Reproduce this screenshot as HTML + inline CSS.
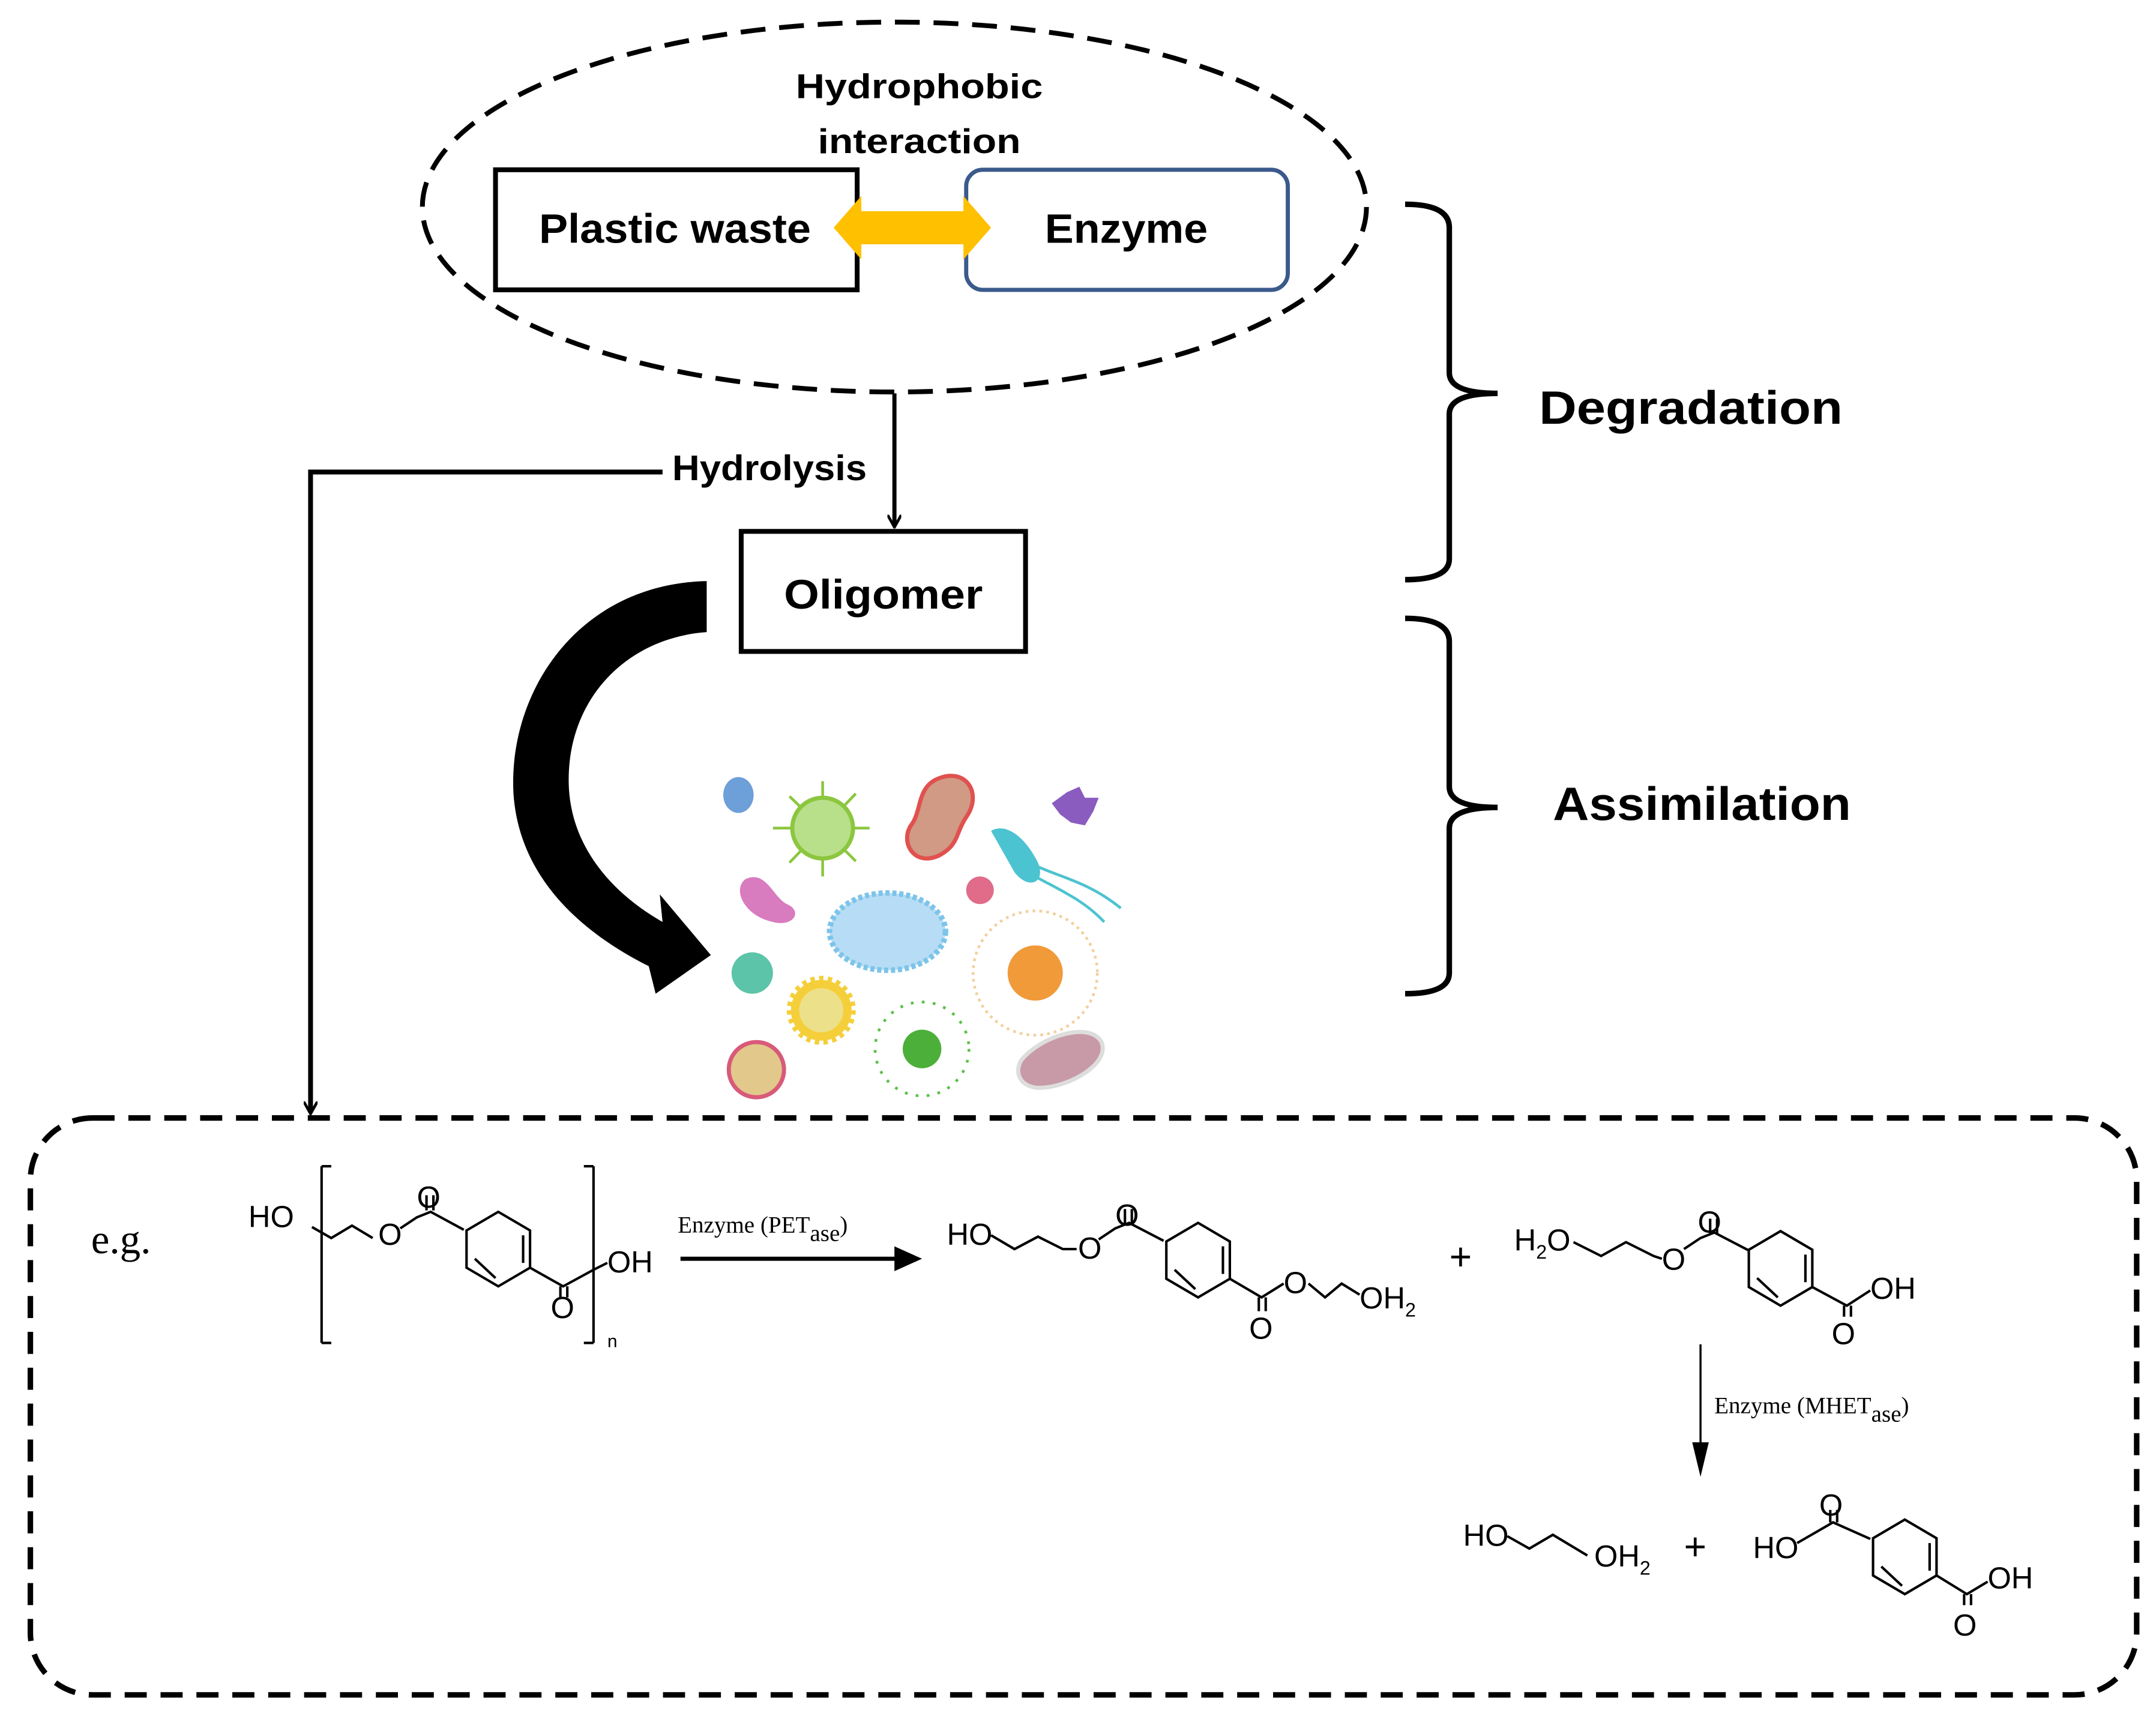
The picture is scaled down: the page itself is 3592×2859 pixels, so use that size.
<!DOCTYPE html>
<html><head><meta charset="utf-8"><style>
html,body{margin:0;padding:0;background:#fff;}
svg{display:block;}
</style></head><body>
<svg width="3592" height="2859" viewBox="0 0 1562 1243.3" preserveAspectRatio="none" xmlns="http://www.w3.org/2000/svg">
<defs>
<marker id="ah" markerWidth="10" markerHeight="10" refX="8" refY="5" orient="auto" markerUnits="userSpaceOnUse"><path d="M0,0 L9,5 L0,10" fill="none" stroke="#000" stroke-width="2"/></marker>
</defs>
<rect width="1562" height="1243.3" fill="#fff"/>
<!-- ellipse -->
<ellipse cx="648" cy="150" rx="342" ry="134" fill="none" stroke="#000" stroke-width="3.5" stroke-dasharray="18,10"/>
<g font-family="Liberation Sans, sans-serif" font-weight="bold" fill="#000">
<text x="666" y="71" font-size="25" text-anchor="middle" textLength="179" lengthAdjust="spacingAndGlyphs">Hydrophobic</text>
<text x="666" y="111" font-size="25" text-anchor="middle" textLength="147" lengthAdjust="spacingAndGlyphs">interaction</text>
</g>
<rect x="359" y="123" width="262" height="87" fill="#fff" stroke="#000" stroke-width="3.5"/>
<rect x="700" y="123" width="233" height="87" rx="12" fill="#fff" stroke="#3b5a8c" stroke-width="3"/>
<path d="M604,165 L624,142 L624,153 L698,153 L698,142 L718,165 L698,188 L698,177 L624,177 L624,188 Z" fill="#ffc000"/>
<g font-family="Liberation Sans, sans-serif" font-weight="bold" fill="#000">
<text x="489" y="176" font-size="30" text-anchor="middle" textLength="197" lengthAdjust="spacingAndGlyphs">Plastic waste</text>
<text x="816" y="176" font-size="30" text-anchor="middle" textLength="118" lengthAdjust="spacingAndGlyphs">Enzyme</text>
<text x="640" y="441" font-size="30" text-anchor="middle" textLength="144" lengthAdjust="spacingAndGlyphs">Oligomer</text>
<text x="487" y="348" font-size="26" textLength="141" lengthAdjust="spacingAndGlyphs">Hydrolysis</text>
<text x="1115" y="307" font-size="34" textLength="220" lengthAdjust="spacingAndGlyphs">Degradation</text>
<text x="1125" y="594" font-size="34" textLength="216" lengthAdjust="spacingAndGlyphs">Assimilation</text>
</g>
<!-- connectors -->
<line x1="648" y1="285" x2="648" y2="381" stroke="#000" stroke-width="3" marker-end="url(#ah)"/>
<polyline points="480,342 225,342 225,806" fill="none" stroke="#000" stroke-width="3.5" marker-end="url(#ah)"/>
<rect x="537" y="385" width="206" height="87" fill="none" stroke="#000" stroke-width="3.5"/>
<!-- big curved arrow -->
<path d="M512,421 C420,423 368,500 372,575 C376,635 420,675 470,700 L475,720 L515,692 L478,648 L480,668 C440,645 412,610 412,565 C412,505 455,462 512,458 Z" fill="#000"/>
<!-- braces -->
<path d="M1018,148 Q1050,148 1050,165 L1050,270 Q1050,285 1085,285 Q1050,285 1050,300 L1050,405 Q1050,420 1018,420" fill="none" stroke="#000" stroke-width="4"/>
<path d="M1018,448 Q1050,448 1050,465 L1050,570 Q1050,585 1085,585 Q1050,585 1050,600 L1050,705 Q1050,720 1018,720" fill="none" stroke="#000" stroke-width="4"/>
<!-- bacteria -->
<g>
<ellipse cx="535" cy="576" rx="11" ry="13" fill="#6d9fd8"/>
<g stroke="#8cc63f" stroke-width="2"><line x1="596" y1="600" x2="596" y2="566"/><line x1="596" y1="600" x2="630" y2="600"/><line x1="596" y1="600" x2="560" y2="600"/><line x1="596" y1="600" x2="596" y2="635"/><line x1="596" y1="600" x2="620" y2="575"/><line x1="596" y1="600" x2="572" y2="625"/><line x1="596" y1="600" x2="572" y2="577"/><line x1="596" y1="600" x2="620" y2="624"/></g>
<circle cx="596" cy="600" r="22" fill="#b8e08a" stroke="#8cc63f" stroke-width="3"/>
<path d="M680,564 C700,556 712,575 700,592 C692,604 695,612 680,620 C662,628 652,610 660,598 C668,588 664,570 680,564Z" fill="#d09a85" stroke="#e0514f" stroke-width="3"/>
<path d="M773,574 L782,570 L786,578 L796,578 L792,588 L786,598 L776,596 L768,590 L762,582Z" fill="#8a5cc0"/>
<path d="M718,602 C728,596 742,605 752,625 C758,640 745,645 735,632 Z" fill="#4cc3d0"/>
<path d="M752,628 C770,636 790,640 812,658 M750,635 C768,645 785,652 800,668" stroke="#4cc3d0" stroke-width="2" fill="none"/>
<circle cx="710" cy="645" r="10" fill="#e06c8a"/>
<path d="M540,637 C555,630 560,650 570,655 C582,660 575,672 560,668 C540,664 530,645 540,637Z" fill="#d87bbf"/>
<ellipse cx="643" cy="675" rx="42" ry="28" fill="#b7dcf5" stroke="#7cc4e8" stroke-width="4" stroke-dasharray="3,2"/>
<circle cx="750" cy="705" r="45" fill="none" stroke="#f2d0a0" stroke-width="2" stroke-dasharray="2,3"/>
<circle cx="750" cy="705" r="20" fill="#f09a3a"/>
<circle cx="545" cy="705" r="15" fill="#5cc4a8"/>
<circle cx="595" cy="732" r="22" fill="#f5cf3a" stroke="#f5cf3a" stroke-width="6" stroke-dasharray="3,3"/>
<circle cx="595" cy="732" r="16" fill="#ede08a"/>
<circle cx="668" cy="760" r="34" fill="none" stroke="#5cbf4a" stroke-width="2" stroke-dasharray="2,6"/>
<circle cx="668" cy="760" r="14" fill="#4caf3a"/>
<path d="M740,768 C755,750 790,740 798,755 C805,772 770,790 750,788 C738,786 735,776 740,768Z" fill="#c89aa8" stroke="#ddd" stroke-width="3"/>
<circle cx="548" cy="775" r="20" fill="#e2c88a" stroke="#d85a7a" stroke-width="3"/>
</g>
<!-- bottom dashed rounded rect -->
<rect x="22" y="810" width="1526" height="418" rx="45" fill="none" stroke="#000" stroke-width="4" stroke-dasharray="16,10"/>
<!-- chemistry -->
<g font-family="Liberation Sans, sans-serif" font-size="22" fill="#000">
<text x="66" y="908" font-family="Liberation Serif, serif" font-size="30">e.g.</text>
<text x="180" y="889">HO</text>
<text x="274" y="902">O</text>
<text x="302" y="875">O</text>
<text x="399" y="955">O</text>
<text x="440" y="922">OH</text>
<text x="440" y="976" font-size="13">n</text>
<text x="686" y="902">HO</text>
<text x="781" y="912">O</text>
<text x="808" y="888">O</text>
<text x="905" y="970">O</text>
<text x="930" y="937">O</text>
<text x="985" y="948">OH<tspan font-size="14" dy="6">2</tspan></text>
<text x="1050" y="920" font-size="28">+</text>
<text x="1097" y="906">H<tspan font-size="14" dy="6">2</tspan><tspan dy="-6">O</tspan></text>
<text x="1204" y="920">O</text>
<text x="1230" y="893">O</text>
<text x="1355" y="941">OH</text>
<text x="1327" y="974">O</text>
<text x="1060" y="1120">HO</text>
<text x="1155" y="1135">OH<tspan font-size="14" dy="6">2</tspan></text>
<text x="1220" y="1130" font-size="28">+</text>
<text x="1270" y="1129">HO</text>
<text x="1318" y="1098">O</text>
<text x="1440" y="1151">OH</text>
<text x="1415" y="1185">O</text>
</g>
<g font-family="Liberation Serif, serif" font-size="17" fill="#000">
<text x="491" y="893">Enzyme (PET<tspan font-size="17" dy="6">ase</tspan><tspan dy="-6">)</tspan></text>
<text x="1242" y="1024">Enzyme (MHET<tspan dy="6">ase</tspan><tspan dy="-6">)</tspan></text>
</g>
<!-- arrows chem -->
<line x1="493" y1="912" x2="655" y2="912" stroke="#000" stroke-width="3"/>
<path d="M648,903 L668,912 L648,921 Z" fill="#000"/>
<line x1="1232" y1="974" x2="1232" y2="1050" stroke="#000" stroke-width="1.5"/>
<path d="M1226,1045 L1232,1070 L1238,1045 Z" fill="#000"/>
<!-- bonds -->
<g stroke="#000" stroke-width="1.8" fill="none">
<!-- PET -->
<path d="M233,845 L233,973 M233,845 L240,845 M233,973 L240,973"/>
<path d="M430,845 L430,973 M430,845 L423,845 M430,973 L423,973"/>
<polyline points="226,889 240,897 255,888 270,897"/>
<polyline points="290,890 302,882 312,878 336,891"/>
<line x1="309" y1="877" x2="309" y2="866"/><line x1="314" y1="877" x2="314" y2="866"/>
<polygon points="361,878 384,891.5 384,918.5 361,932 338,918.5 338,891.5"/>
<line x1="379" y1="895" x2="379" y2="915"/><line x1="344" y1="912" x2="359" y2="926"/>
<polyline points="384,918.5 408,932 430,920 440,915"/>
<line x1="406" y1="932" x2="406" y2="940"/><line x1="411" y1="932" x2="411" y2="940"/>
<!-- product 1 -->
<polyline points="718,895 735,905 752,896 770,905 780,905"/>
<polyline points="796,898 808,890 818,886 843,899"/>
<line x1="815" y1="887" x2="815" y2="876"/><line x1="820" y1="887" x2="820" y2="876"/>
<polygon points="868,886 891,899.5 891,926.5 868,940 845,926.5 845,899.5"/>
<line x1="886" y1="903" x2="886" y2="923"/><line x1="851" y1="920" x2="866" y2="934"/>
<polyline points="891,926.5 914,940 930,930"/>
<line x1="912" y1="940" x2="912" y2="950"/><line x1="917" y1="940" x2="917" y2="950"/>
<polyline points="948,930 960,940 972,930 985,938"/>
<!-- product 2 -->
<polyline points="1140,900 1160,910 1178,900 1198,910 1204,912"/>
<polyline points="1220,905 1232,897 1242,893 1267,906"/>
<line x1="1239" y1="894" x2="1239" y2="883"/><line x1="1244" y1="894" x2="1244" y2="883"/>
<polygon points="1290,892 1313,905.5 1313,932.5 1290,946 1267,932.5 1267,905.5"/>
<line x1="1308" y1="909" x2="1308" y2="929"/><line x1="1273" y1="926" x2="1288" y2="940"/>
<polyline points="1313,932.5 1338,946 1355,935"/>
<line x1="1336" y1="946" x2="1336" y2="954"/><line x1="1341" y1="946" x2="1341" y2="954"/>
<!-- final -->
<polyline points="1092,1113 1108,1122 1125,1112 1150,1127"/>
<polyline points="1302,1118 1328,1103 1355,1115"/>
<line x1="1326" y1="1103" x2="1326" y2="1094"/><line x1="1331" y1="1103" x2="1331" y2="1094"/>
<polygon points="1380,1101 1403,1114.5 1403,1141.5 1380,1155 1357,1141.5 1357,1114.5"/>
<line x1="1398" y1="1118" x2="1398" y2="1138"/><line x1="1363" y1="1135" x2="1378" y2="1149"/>
<polyline points="1403,1141.5 1425,1155 1440,1146"/>
<line x1="1423" y1="1155" x2="1423" y2="1163"/><line x1="1428" y1="1155" x2="1428" y2="1163"/>
</g>
</svg>
</body></html>
